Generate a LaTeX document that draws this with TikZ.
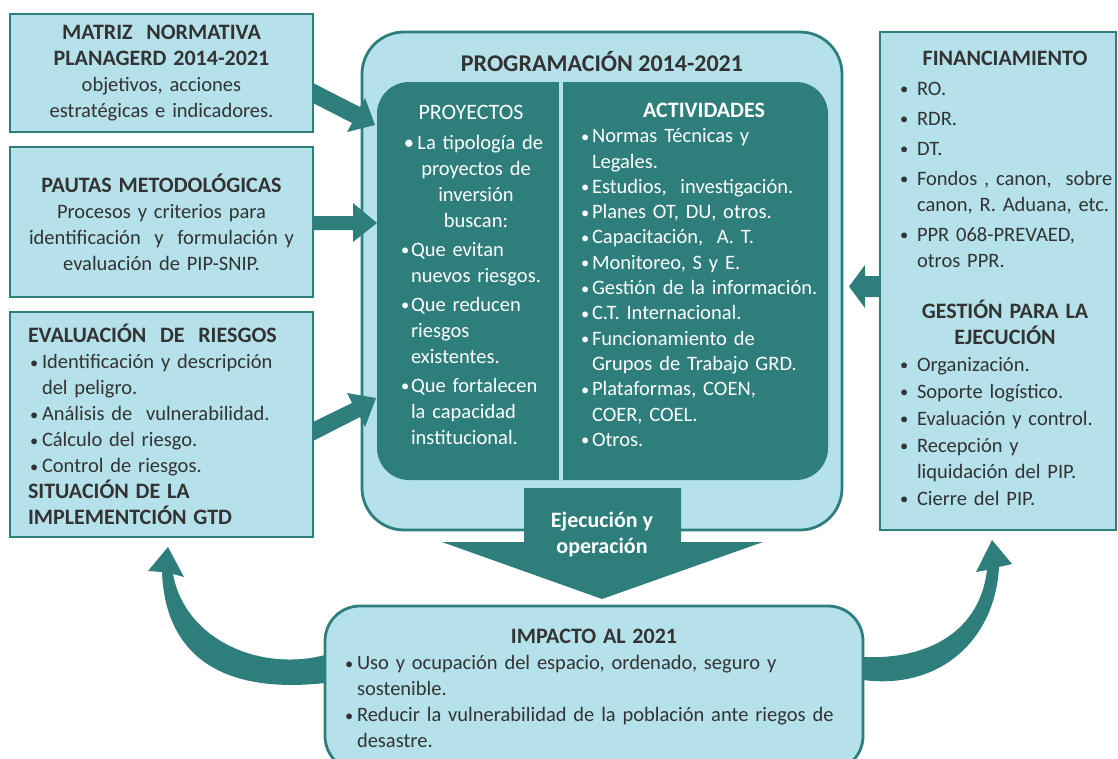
\documentclass[tikz,border=0pt]{standalone}
\usepackage{fontspec}
\usepackage{graphicx}
\setmainfont{Carlito}
\usetikzlibrary{calc}
\definecolor{darkteal}{HTML}{2E7E7C}
\definecolor{paleblue}{HTML}{B5E1EA}
\definecolor{inkgrey}{HTML}{333333}
\newcommand{\bodyfont}{\fontsize{20.5}{26}\mdseries}
\newcommand{\headfont}{\fontsize{22}{26}\bfseries}
\newcommand{\bul}[1]{\makebox[#1][l]{\raisebox{0.5pt}{\scalebox{0.8}{\textbullet}}}}

\begin{document}
\begin{tikzpicture}[x=1pt, y=-1pt]
    \tikzstyle{every node} = [align=center, inner sep=0pt, outer sep=0pt, text=inkgrey, font=\bodyfont]
    \tikzstyle{sidebox} = [draw=darkteal, line width=2.8pt, fill=paleblue, anchor=north west]
    \tikzstyle{roundbox} = [sidebox, rounded corners=42pt]
    \tikzstyle{darkbox} = [fill=darkteal, rounded corners=32pt, anchor=north west]
    \tikzstyle{blockarrow} = [fill=darkteal]
    \tikzstyle{column} = [anchor=north west, align=left, text=white]
    \useasboundingbox (0,0) rectangle (1118,758);

    \node[roundbox, minimum width=480pt, minimum height=498pt] (prog) at (362,32) {};
    \node[darkbox, minimum width=451pt, minimum height=398pt] (inner) at (377,82) {};
    \draw[paleblue, line width=4pt] ([xshift=-41.5pt]inner.north) -- ([xshift=-41.5pt]inner.south);
    \node[font=\fontsize{24}{28}\bfseries] (progtitle) at (602,62) {PROGRAMACIÓN 2014-2021};
    \node[column, text width=155pt] (proyectos) at (401,105) {
        {\fontsize{22}{26}\selectfont\makebox[140pt]{PROYECTOS}}\\[4pt]
        \makebox[145pt]{\textbullet\,La tipología de}\\
        \makebox[150pt]{proyectos de}\\
        \makebox[150pt]{inversión}\\
        \makebox[150pt]{buscan:}\\[3pt]
        \bul{10pt}Que evitan\\
        \hspace*{10pt}nuevos riesgos.\\[3pt]
        \bul{10pt}Que reducen\\
        \hspace*{10pt}riesgos\\
        \hspace*{10pt}existentes.\\[3pt]
        \bul{10pt}Que fortalecen\\
        \hspace*{10pt}la capacidad\\
        \hspace*{10pt}institucional.};
    \node[column, text width=246pt, font=\fontsize{20.5}{25.3}\mdseries] (actividades) at (581,103) {
        {\headfont\makebox[246pt]{ACTIVIDADES}}\\
        \bul{11pt}Normas Técnicas y\\
        \hspace*{11pt}Legales.\\
        \bul{11pt}Estudios,\ \ investigación.\\
        \bul{11pt}Planes OT, DU, otros.\\
        \bul{11pt}Capacitación,\ \ A. T.\\
        \bul{11pt}Monitoreo, S y E.\\
        \bul{11pt}Gestión de la información.\\
        \bul{11pt}C.T. Internacional.\\
        \bul{11pt}Funcionamiento de\\
        \hspace*{11pt}Grupos de Trabajo GRD.\\
        \bul{11pt}Plataformas, COEN,\\
        \hspace*{11pt}COER, COEL.\\
        \bul{11pt}Otros.};
    \fill[blockarrow] (prog.south) ++(-78,-42) -- ++(157,0) -- ++(0,54) -- ++(82,0) -- ++(-161,57) -- ++(-160,-57) -- ++(82,0) -- cycle;
    \node[text=white, font=\headfont] (ejecucion) at (602,535) {Ejecución y\\ operación};

    \node[sidebox, minimum width=303pt, minimum height=118pt, text width=290pt] (matriz) at (10,14) {
        \headfont MATRIZ\ \ NORMATIVA\\ PLANAGERD 2014-2021\\
        \bodyfont objetivos, acciones\\ estratégicas e indicadores.};
    \node[sidebox, minimum width=303pt, minimum height=150pt, text width=290pt] (pautas) at (10,147) {
        \headfont PAUTAS METODOLÓGICAS\\
        \bodyfont Procesos y criterios para\\ identificación\ \ y\ \ formulación y\\ evaluación de PIP-SNIP.};
    \node[sidebox, minimum width=303pt, minimum height=225pt, text width=267pt, align=left] (evaluacion) at (10,312) {
        \headfont EVALUACIÓN\ \ DE\ \ RIESGOS\\
        \bodyfont\hspace*{2pt}\bul{12pt}Identificación y descripción\\
        \hspace*{14pt}del peligro.\\
        \hspace*{2pt}\bul{12pt}Análisis de\ \ vulnerabilidad.\\
        \hspace*{2pt}\bul{12pt}Cálculo del riesgo.\\
        \hspace*{2pt}\bul{12pt}Control de riesgos.\\
        \headfont SITUACIÓN DE LA\\
        IMPLEMENTCIÓN GTD};
    \node[sidebox, minimum width=236pt, minimum height=498pt] (financ) at (880,32) {};
    \node[anchor=north west, align=left, text width=232pt] (financtext) at (900,51) {
        \headfont\makebox[210pt]{FINANCIAMIENTO}\\[4pt]
        \bodyfont\bul{17pt}RO.\\[4pt]
        \bul{17pt}RDR.\\[4pt]
        \bul{17pt}DT.\\[4pt]
        \bul{17pt}Fondos , canon,\ \ sobre\\
        \hspace*{17pt}canon, R. Aduana, etc.\\[4pt]
        \bul{17pt}PPR 068-PREVAED,\\
        \hspace*{17pt}otros PPR.\\[25pt]
        \headfont\makebox[210pt]{GESTIÓN PARA LA}\\
        \makebox[210pt]{EJECUCIÓN}\\[1pt]
        \bodyfont\bul{17pt}Organización.\\[1pt]
        \bul{17pt}Soporte logístico.\\[1pt]
        \bul{17pt}Evaluación y control.\\[1pt]
        \bul{17pt}Recepción y\\
        \hspace*{17pt}liquidación del PIP.\\[1pt]
        \bul{17pt}Cierre del PIP.};

    \fill[blockarrow] (matriz.east) ++(0,10) -- ++(47,24) -- ++(5,-9) -- ++(10,27) -- ++(-28,7) -- ++(5,-9) -- ++(-39,-20) -- cycle;
    \fill[blockarrow] (pautas.east) ++(0,-6) -- ++(40,0) -- ++(0,-13) -- ++(24,20) -- ++(-24,19) -- ++(0,-12) -- ++(-40,0) -- cycle;
    \fill[blockarrow] (evaluacion.east) ++(0,-2.5) -- ++(39,-19) -- ++(-5,-10) -- ++(29,5) -- ++(-11,29) -- ++(-5,-10) -- ++(-47,24) -- cycle;
    \fill[blockarrow] (financ.west) ++(0,-5) -- ++(-15,0) -- ++(0,-11) -- ++(-16,21.5) -- ++(16,21.5) -- ++(0,-11) -- ++(15,0) -- cycle;

    \node[roundbox, rounded corners=35pt, minimum width=538pt, minimum height=165pt, text width=498pt, align=left] (impacto) at (325,606) {
        \headfont\makebox[498pt]{IMPACTO AL 2021}\\
        \bodyfont\bul{12pt}Uso y ocupación del espacio, ordenado, seguro y\\
        \hspace*{12pt}sostenible.\\
        \bul{12pt}Reducir la vulnerabilidad de la población ante riegos de\\
        \hspace*{12pt}desastre.};
    \fill[blockarrow] (impacto.west) ++(0,-33.5) .. controls (260,672) and (185,640) .. (173,574) -- (184,577) -- (168,547) -- (148,571) -- (162,572) .. controls (165,650) and (215,695) .. (325,683) -- cycle;
    \fill[blockarrow] (impacto.east) ++(0,-31.5) .. controls (930,660) and (980,630) .. (987,570) -- (976,572) -- (992,540) -- (1012,564) -- (999,567) .. controls (995,640) and (940,690) .. (863,680) -- cycle;
\end{tikzpicture}
\end{document}
